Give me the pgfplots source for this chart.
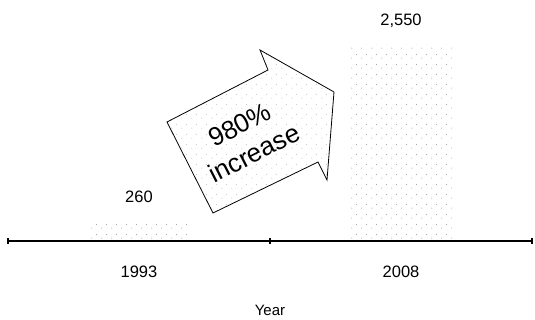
\documentclass[border=0pt]{standalone}
\usepackage{fontspec}
\setmainfont{Liberation Sans}
\usepackage{pgfplots}
\pgfplotsset{compat=1.18}
\usetikzlibrary{patterns}

% sparse grey stipple used for the bars and the arrow
\pgfdeclarepatternformonly{sparsedots}{\pgfpointorigin}{\pgfqpoint{10bp}{10bp}}{\pgfqpoint{10bp}{10bp}}{%
  \pgfpathcircle{\pgfqpoint{2bp}{2bp}}{0.55bp}%
  \pgfpathcircle{\pgfqpoint{7bp}{6bp}}{0.5bp}%
  \pgfusepath{fill}}

\begin{document}
\begin{tikzpicture}
\begin{axis}[
  at={(8bp,79bp)}, anchor=south west,
  scale only axis, width=524bp, height=230.6bp,
  xmin=-0.5, xmax=1.5, ymin=0, ymax=3000,
  axis y line=none, axis x line*=bottom,
  axis line style={line width=2bp, black},
  xtick={0,1}, xticklabels={1993,2008},
  major tick length=0pt,
  extra x ticks={-0.5,0.5,1.5}, extra x tick labels={},
  extra x tick style={major tick length=6bp, tick align=center, tick style={line width=1.5bp, black}},
  xticklabel style={font=\fontsize{16.5bp}{19bp}\selectfont, anchor=center, yshift=-31bp},
  xlabel={Year},
  xlabel style={font=\fontsize{15bp}{18bp}\selectfont, at={(axis description cs:0.5,0)}, anchor=center, yshift=-69bp},
  ybar, bar width=102bp,
  /pgf/number format/.cd, 1000 sep={,}, assume math mode=true,
  /pgfplots/.cd,
  nodes near coords,
  nodes near coords style={font=\fontsize{16.5bp}{19bp}\selectfont, anchor=base, yshift=19bp},
  clip=false,
]
\addplot[draw=none, pattern=sparsedots, pattern color=black!40] coordinates {(0,260) (1,2550)};
\end{axis}

% the "980% increase" arrow
\begin{scope}[x=1bp, y=-1bp, shift={(0bp,320bp)}]
  \draw[line width=0.8bp, pattern=sparsedots, pattern color=black!25]
    (167,122) -- (268,70) -- (260,50) -- (334,92) -- (327,180) -- (318,162) -- (213,213) -- cycle;
  \node[rotate=27, align=center, font=\fontsize{26bp}{32bp}\selectfont] at (247,139) {980\%\\increase};
\end{scope}

\pgfresetboundingbox
\path[use as bounding box] (0,0) rectangle (535bp,320bp);
\end{tikzpicture}
\end{document}
